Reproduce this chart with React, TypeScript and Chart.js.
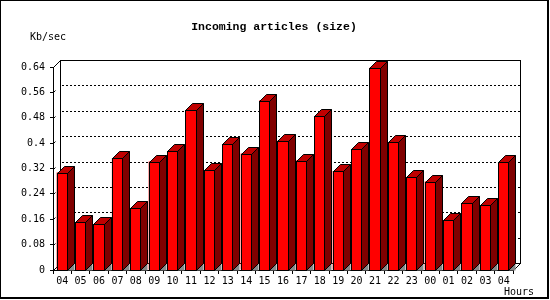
import React, { useEffect, useRef } from "react";
import { Chart, registerables } from "chart.js";

Chart.register(...registerables);

const hours = ["04", "05", "06", "07", "08", "09", "10", "11", "12", "13", "14", "15", "16", "17", "18", "19", "20", "21", "22", "23", "00", "01", "02", "03", "04"];
const kbPerSec = [0.307, 0.151, 0.144, 0.352, 0.194, 0.342, 0.374, 0.503, 0.314, 0.396, 0.367, 0.534, 0.408, 0.345, 0.484, 0.312, 0.38, 0.638, 0.402, 0.293, 0.279, 0.157, 0.21, 0.204, 0.339];
const yTickValues = [0, 0.08, 0.16, 0.24, 0.32, 0.4, 0.48, 0.56, 0.64];
const yTickLabels = ["0", "0.08", "0.16", "0.24", "0.32", "0.4", "0.48", "0.56", "0.64"];
const titleText = "Incoming articles (size)";
const yUnitText = "Kb/sec";
const xUnitText = "Hours";

const DEPTH = 7;
const FRONT = "#ff0000";
const TOP = "#c00000";
const SIDE = "#800000";
const FLOOR = "#888888";
const MONO = "'DejaVu Sans Mono', monospace";

const bar3dPlugin = {
  id: "bar3d",
  beforeDatasetsDraw(chart: any) {
    const ctx = chart.ctx;
    const { left, right, top, bottom } = chart.chartArea;
    const yScale = chart.scales.y;
    const L = Math.round(left), R = Math.round(right), T = Math.round(top), B = Math.round(bottom);
    ctx.save();
    ctx.strokeStyle = "#000";
    ctx.lineWidth = 1;
    // dotted back grid lines
    ctx.setLineDash([2, 2]);
    yTickValues.forEach((v) => {
      if (v === 0 || v === yTickValues[yTickValues.length - 1]) return;
      const y = Math.round(yScale.getPixelForValue(v)) - DEPTH + 0.5;
      ctx.beginPath();
      ctx.moveTo(L + DEPTH + 2, y);
      ctx.lineTo(R + DEPTH, y);
      ctx.stroke();
    });
    ctx.setLineDash([]);
    // back plane border
    ctx.strokeRect(L + DEPTH + 0.5, T - DEPTH + 0.5, R - L, B - T);
    // connecting diagonals
    const diag = (x: number, y: number) => {
      ctx.beginPath();
      ctx.moveTo(x + 0.5, y + 0.5);
      ctx.lineTo(x + DEPTH + 0.5, y - DEPTH + 0.5);
      ctx.stroke();
    };
    diag(L, T);
    diag(L, B);
    diag(R, B);
    // small marks at y ticks on the left wall
    yTickValues.forEach((v) => {
      const y = Math.round(yScale.getPixelForValue(v));
      ctx.beginPath();
      ctx.moveTo(L + 0.5, y + 0.5);
      ctx.lineTo(L + 2.5, y - 1.5);
      ctx.stroke();
    });
    ctx.restore();
  },
  afterDatasetsDraw(chart: any) {
    const ctx = chart.ctx;
    const meta = chart.getDatasetMeta(0);
    ctx.save();
    ctx.lineWidth = 1;
    ctx.strokeStyle = "#000";
    meta.data.forEach((el: any) => {
      const { x, y, base, width } = el.getProps(["x", "y", "base", "width"], true);
      const l = Math.round(x - width / 2) + 0.5;
      const r = Math.round(x + width / 2) - 0.5;
      const t = Math.round(y) + 0.5;
      const b = Math.round(base) + 0.5;
      // floor triangle
      ctx.fillStyle = FLOOR;
      ctx.beginPath();
      ctx.moveTo(r, b);
      ctx.lineTo(r + DEPTH, b - DEPTH);
      ctx.lineTo(r + DEPTH, b);
      ctx.closePath();
      ctx.fill();
      // side face
      ctx.fillStyle = SIDE;
      ctx.beginPath();
      ctx.moveTo(r, t);
      ctx.lineTo(r + DEPTH, t - DEPTH);
      ctx.lineTo(r + DEPTH, b - DEPTH);
      ctx.lineTo(r, b);
      ctx.closePath();
      ctx.fill();
      ctx.stroke();
      // top face
      ctx.fillStyle = TOP;
      ctx.beginPath();
      ctx.moveTo(l, t);
      ctx.lineTo(l + DEPTH, t - DEPTH);
      ctx.lineTo(r + DEPTH, t - DEPTH);
      ctx.lineTo(r, t);
      ctx.closePath();
      ctx.fill();
      ctx.stroke();
      // front face
      ctx.fillStyle = FRONT;
      ctx.fillRect(l, t, r - l, b - t);
      ctx.strokeRect(l, t, r - l, b - t);
    });
    ctx.restore();
  },
  afterDraw(chart: any) {
    const ctx = chart.ctx;
    ctx.save();
    ctx.fillStyle = "#000";
    ctx.textBaseline = "middle";
    ctx.textAlign = "center";
    ctx.font = "bold 11.5px 'Liberation Mono', monospace";
    ctx.fillText(titleText, 274, 27);
    ctx.textAlign = "left";
    ctx.font = "10px " + MONO;
    ctx.fillText(yUnitText, 30, 37);
    ctx.fillText(xUnitText, 504, 292);
    // outer frame
    ctx.strokeStyle = "#000";
    ctx.lineWidth = 1;
    ctx.strokeRect(0.5, 0.5, 547, 297);
    ctx.fillRect(548, 0, 1, 299);
    ctx.fillRect(0, 298, 549, 1);
    ctx.restore();
  },
};

export default function App() {
  const ref = useRef<HTMLCanvasElement | null>(null);
  useEffect(() => {
    if (!ref.current) return;
    const chart = new Chart(ref.current, {
      type: "bar",
      data: {
        labels: hours,
        datasets: [
          {
            data: kbPerSec,
            backgroundColor: FRONT,
            borderColor: "#000",
            borderWidth: 0,
            categoryPercentage: 1,
            barPercentage: 0.6,
          },
        ],
      },
      options: {
        animation: false,
        responsive: false,
        events: [],
        layout: { padding: { left: 0, top: 67, right: 37, bottom: 0 } },
        plugins: { legend: { display: false }, tooltip: { enabled: false }, title: { display: false } },
        scales: {
          x: {
            afterFit: (s: any) => {
              s.height = 30;
            },
            ticks: { font: { family: MONO, size: 10 }, color: "#000", padding: 1, maxRotation: 0, autoSkip: false },
            grid: { drawOnChartArea: false, tickLength: 4, color: "#000", offset: true },
            border: { color: "#000", width: 1 },
          },
          y: {
            min: 0,
            max: 0.64,
            afterBuildTicks: (s: any) => {
              s.ticks = yTickValues.map((v) => ({ value: v }));
            },
            afterFit: (s: any) => {
              s.width = 53;
            },
            ticks: {
              callback: (_v: any, i: number) => yTickLabels[i],
              font: { family: MONO, size: 10 },
              color: "#000",
              padding: 5,
            },
            grid: { drawOnChartArea: false, tickLength: 3, color: "#000" },
            border: { color: "#000", width: 1 },
          },
        },
      },
      plugins: [bar3dPlugin],
    });
    return () => chart.destroy();
  }, []);
  return (
    <div style={{ position: "absolute", left: 0, top: 0, width: 550, height: 300, background: "#fff" }}>
      <canvas ref={ref} width={550} height={300} style={{ width: 550, height: 300, display: "block" }} />
    </div>
  );
}
